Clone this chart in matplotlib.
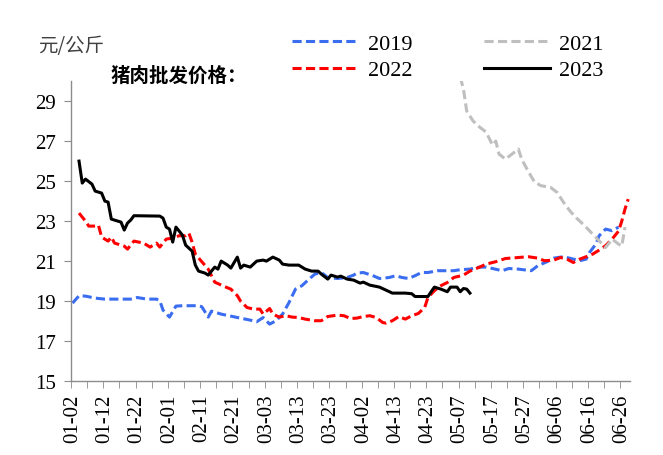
"""Pork wholesale price by year (元/公斤), Jan–Jun, one line per year."""

import matplotlib

matplotlib.use("Agg")

import matplotlib.pyplot as plt  # noqa: E402

# category axis: 173 trading days, labelled every 10th
N_DAYS = 173
TICK_LABELS = [
    "01-02", "01-12", "01-22", "02-01", "02-11", "02-21", "03-03", "03-13", "03-23",
    "04-02", "04-13", "04-23", "05-07", "05-17", "05-27", "06-06", "06-16", "06-26",
]

# values: (day index, price)
DAY_2019 = [0, 2, 4, 7, 10, 14, 18, 20, 23, 26, 27, 28, 30, 32, 34, 39, 40, 42, 43, 46,
            51, 55, 57, 59, 61, 63, 65, 67, 69, 71, 73, 75, 77, 79, 82, 85, 87, 88, 90, 93,
            95, 98, 100, 102, 104, 106, 108, 110, 113, 116, 118, 120, 123, 126, 128, 130,
            133, 135, 138, 142, 144, 147, 149, 152, 155, 157, 159, 160, 162, 163, 165, 167, 169]
PRICE_2019 = [18.9, 19.27, 19.25, 19.15, 19.1, 19.1, 19.1, 19.18, 19.1, 19.1, 19.02, 18.55,
              18.2, 18.75, 18.77, 18.77, 18.72, 18.2, 18.5, 18.35, 18.18, 18.05, 17.97, 18.18,
              17.85, 18.02, 18.35, 18.93, 19.6, 19.77, 20.07, 20.35, 20.43, 20.18, 20.13, 20.18,
              20.3, 20.4, 20.43, 20.27, 20.13, 20.18, 20.27, 20.18, 20.13, 20.27, 20.43, 20.43,
              20.52, 20.52, 20.52, 20.57, 20.6, 20.7, 20.7, 20.63, 20.52, 20.63, 20.6, 20.52,
              20.77, 20.98, 21.15, 21.22, 21.1, 21.02, 21.1, 21.43, 21.85, 22.27, 22.6, 22.52, 22.7]

DAY_2021 = [120, 121, 122, 124, 126, 128, 130, 131, 132, 134, 136, 138, 139, 141, 143, 145,
            148, 150, 152, 154, 156, 158, 160, 162, 164, 165, 167, 169, 170, 171]
PRICE_2021 = [30.2, 29.6, 28.5, 28.0, 27.7, 27.45, 26.8, 27.0, 26.35, 26.1, 26.35, 26.6, 26.1,
              25.5, 24.95, 24.77, 24.68, 24.43, 23.93, 23.5, 23.15, 22.85, 22.52, 22.18, 21.85,
              21.68, 22.1, 21.85, 21.75, 22.7]

DAY_2022 = [2, 4, 5, 7, 8, 9, 11, 12, 13, 16, 17, 19, 22, 24, 26, 27, 29, 31, 33, 35, 36, 37,
            38, 40, 42, 44, 47, 49, 51, 52, 54, 56, 58, 59, 61, 62, 64, 66, 68, 70, 72, 75, 77,
            79, 82, 84, 86, 88, 90, 92, 94, 96, 97, 99, 101, 103, 105, 107, 109, 110, 112, 114,
            116, 118, 121, 123, 126, 128, 131, 134, 138, 141, 144, 146, 149, 151, 153, 155, 157,
            159, 161, 163, 165, 167, 169, 170, 171, 172]
PRICE_2022 = [23.4, 23.0, 22.75, 22.75, 22.8, 22.2, 22.0, 22.2, 21.9, 21.75, 21.6, 22.0, 21.9,
              21.7, 21.9, 21.7, 22.1, 22.15, 22.27, 22.27, 22.4, 21.95, 21.35, 20.97, 20.6,
              19.95, 19.73, 19.6, 19.27, 19.0, 18.68, 18.6, 18.6, 18.35, 18.63, 18.35, 18.2,
              18.27, 18.2, 18.18, 18.1, 18.02, 18.02, 18.23, 18.3, 18.27, 18.13, 18.15, 18.23,
              18.27, 18.18, 17.93, 17.9, 18.02, 18.23, 18.1, 18.27, 18.38, 18.68, 19.18, 19.52,
              19.77, 19.93, 20.18, 20.3, 20.5, 20.7, 20.85, 20.97, 21.13, 21.18, 21.22, 21.15,
              21.02, 21.05, 21.18, 21.1, 20.93, 21.1, 21.22, 21.35, 21.55, 21.77, 22.1, 22.5,
              23.0, 23.6, 24.1]

DAY_2023 = [2, 3, 4, 6, 7, 9, 10, 11, 12, 14, 15, 16, 17, 18, 19, 27, 28, 29, 30, 31, 32, 34,
            35, 37, 38, 39, 41, 42, 44, 45, 46, 48, 49, 51, 52, 53, 55, 57, 59, 60, 62, 64, 65,
            67, 70, 72, 74, 76, 77, 79, 80, 82, 83, 85, 87, 89, 90, 92, 95, 97, 99, 103, 105,
            106, 110, 111, 112, 114, 116, 117, 119, 120, 121, 122, 123]
PRICE_2023 = [26.0, 24.9, 25.1, 24.85, 24.5, 24.4, 24.0, 23.95, 23.1, 23.0, 22.95, 22.55, 22.9,
              23.05, 23.27, 23.25, 23.15, 22.7, 22.6, 21.95, 22.7, 22.3, 21.8, 21.5, 20.8, 20.5,
              20.4, 20.3, 20.7, 20.6, 21.0, 20.8, 20.65, 21.2, 20.65, 20.8, 20.7, 21.0, 21.05,
              21.0, 21.2, 21.05, 20.85, 20.8, 20.8, 20.6, 20.5, 20.5, 20.35, 20.1, 20.3, 20.2,
              20.25, 20.1, 20.05, 19.9, 19.95, 19.8, 19.7, 19.55, 19.4, 19.4, 19.37, 19.23, 19.23,
              19.47, 19.7, 19.6, 19.47, 19.7, 19.7, 19.47, 19.63, 19.6, 19.4]

SERIF = "Liberation Serif"
CJK = ["Noto Sans CJK SC", "DejaVu Sans"]
AXIS_GREY = "#8c8c8c"


def plot(path="out.png"):
    plt.rcParams["font.family"] = SERIF
    fig = plt.figure(figsize=(6.63, 4.56), dpi=100)
    ax = fig.add_axes([0.107, 0.162, 0.843, 0.658])

    dash = (3.0, 1.4)
    ax.plot(DAY_2019, PRICE_2019, color="#3a6df0", lw=2.2, dashes=dash, label="2019")
    ax.plot(DAY_2022, PRICE_2022, color="#ff0000", lw=2.2, dashes=dash, label="2022")
    ax.plot(DAY_2021, PRICE_2021, color="#bfbfbf", lw=2.2, dashes=dash, label="2021")
    ax.plot(DAY_2023, PRICE_2023, color="black", lw=2.2, label="2023")

    ax.set_xlim(-0.5, N_DAYS - 0.5)
    ax.set_ylim(15, 30)
    ax.set_yticks(range(15, 30, 2))

    # labels centred on every 10th day, tick marks on day boundaries every 5
    ax.set_xticks(range(0, N_DAYS, 10))
    ax.set_xticklabels(TICK_LABELS, rotation=90)
    ax.set_xticks([k - 0.5 for k in range(0, N_DAYS + 1, 5)], minor=True)
    ax.tick_params(axis="x", which="major", length=0, pad=9, labelsize=15)
    ax.tick_params(axis="x", which="minor", length=5, color=AXIS_GREY)
    ax.tick_params(axis="y", length=5, color=AXIS_GREY, pad=6, labelsize=15)

    for side in ("top", "right"):
        ax.spines[side].set_visible(False)
    for side in ("left", "bottom"):
        ax.spines[side].set_color(AXIS_GREY)
        ax.spines[side].set_linewidth(1.0)

    fig.legend(
        loc="upper left",
        bbox_to_anchor=(0.441, 0.924),
        ncol=2,
        frameon=False,
        fontsize=16,
        handlelength=3.0,
        handletextpad=0.4,
        columnspacing=3.2,
        labelspacing=0.25,
        borderpad=0,
        borderaxespad=0,
    )

    fig.text(0.057, 0.899, "元/公斤", family=CJK, fontsize=14, color="#404040", va="center")
    fig.text(0.166, 0.833, "猪肉批发价格：", family=CJK, fontsize=14, weight="bold", va="center")

    fig.savefig(path, dpi=100)
    plt.close(fig)
    return path


if __name__ == "__main__":
    plot()
